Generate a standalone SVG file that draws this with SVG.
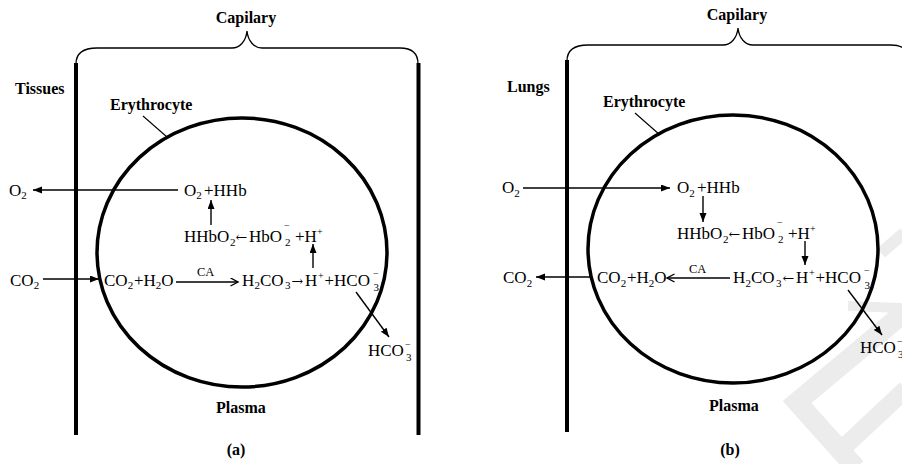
<svg xmlns="http://www.w3.org/2000/svg" width="902" height="464" viewBox="0 0 902 464">
  <style>
    .lbl { font-family: "Liberation Serif", "Times New Roman", serif; font-weight: bold; font-size: 16px; fill: #000; }
    .chem { font-family: "Liberation Serif", "Times New Roman", serif; font-size: 17px; fill: #000; }
    .sub { font-size: 11px; }
    .sup { font-size: 10px; }
    .arr { font-family: "DejaVu Serif", "Liberation Serif", serif; font-size: 14px; }
    .ca { font-family: "Liberation Serif", "Times New Roman", serif; font-size: 12.5px; fill: #000; }
    .wall { stroke: #000; stroke-width: 4; }
    .cell { fill: none; stroke: #000; stroke-width: 3.5; }
    .brace { fill: none; stroke: #000; stroke-width: 1.3; }
    .lead { stroke: #000; stroke-width: 1.1; }
    .conn { stroke: #000; stroke-width: 1.4; fill: none; }
    .wm { stroke: #ececec; fill: none; stroke-linejoin: miter; }
  </style>
  <defs>
    <marker id="head" markerUnits="userSpaceOnUse" markerWidth="10" markerHeight="8" refX="9" refY="3.5" orient="auto">
      <path d="M0,0 L9,3.5 L0,7 z" fill="#000"/>
    </marker>
    <marker id="chev" markerUnits="userSpaceOnUse" markerWidth="10" markerHeight="10" refX="8" refY="4.5" orient="auto">
      <path d="M0.5,0.5 L8,4.5 L0.5,8.5" fill="none" stroke="#000" stroke-width="1.4"/>
    </marker>
  </defs>
  <rect width="902" height="464" fill="#fff"/>

  <!-- faint watermark -->
  <g id="watermark">
    <polyline class="wm" stroke-width="20" points="905,312 797,402 856,468"/>
    <line class="wm" stroke-width="18" x1="843" y1="448" x2="906" y2="389"/>
    <line class="wm" stroke-width="12" x1="904" y1="233" x2="881" y2="253"/>
    <line class="wm" stroke-width="10" x1="848" y1="306" x2="904" y2="308"/>
  </g>

  <!-- ===== Panel (a) ===== -->
  <g id="panel-a">
    <g id="frame-a">
      <text class="lbl" x="246" y="23" text-anchor="middle">Capilary</text>
      <path class="brace" d="M76,64 C76,53 84,48 97,48 L232,48 C240,48 246,41 247,31 C248,41 254,48 262,48 L400,48 C412,48 418,54 418,64"/>
      <line class="wall" x1="76" y1="63" x2="76" y2="435"/>
      <line class="wall" x1="418.5" y1="63" x2="418.5" y2="435"/>
      <text class="lbl" x="15" y="94">Tissues</text>
      <text class="lbl" x="216" y="413">Plasma</text>
      <text class="lbl" x="236" y="455" text-anchor="middle" font-size="17">(a)</text>
    </g>
    <g id="erythrocyte-a">
      <ellipse class="cell" cx="242" cy="252.5" rx="145" ry="134.5"/>
      <text class="lbl" x="110" y="110">Erythrocyte</text>
      <line class="lead" x1="143" y1="116" x2="167" y2="137"/>
    </g>
    <g id="chem-a">
      <text class="chem" x="9" y="195.5">O<tspan class="sub" dy="3.5">2</tspan></text>
      <text class="chem" x="184" y="195.5">O<tspan class="sub" dy="3.5">2</tspan><tspan x="204" dy="-3.5">+HHb</tspan></text>
      <text class="chem"><tspan x="184" y="242">HHbO</tspan><tspan class="sub" x="230" y="245.5">2</tspan><tspan class="arr" x="235.5" y="242">←</tspan><tspan x="249" y="242">HbO</tspan><tspan class="sup" x="284" y="229">−</tspan><tspan class="sub" x="285" y="246">2</tspan><tspan x="295" y="242">+H</tspan><tspan class="sup" x="317" y="235">+</tspan></text>
      <text class="chem" x="10" y="285.5">CO<tspan class="sub" dy="3.5">2</tspan></text>
      <text class="chem" x="104" y="285.5">CO<tspan class="sub" dy="3.5">2</tspan><tspan x="134" dy="-3.5">+</tspan><tspan x="143.5">H</tspan><tspan class="sub" dy="3.5">2</tspan><tspan dy="-3.5">O</tspan></text>
      <text class="ca" x="197" y="276">CA</text>
      <text class="chem"><tspan x="242" y="285.5">H</tspan><tspan class="sub" x="254.5" y="289">2</tspan><tspan x="260" y="285.5">CO</tspan><tspan class="sub" x="285" y="289">3</tspan><tspan class="arr" x="291.5" y="285.5">→</tspan><tspan x="305" y="285.5">H</tspan><tspan class="sup" x="318" y="278.5">+</tspan><tspan x="324.5" y="285.5">+HCO</tspan><tspan class="sup" x="373" y="276.5">−</tspan><tspan class="sub" x="373.5" y="291">3</tspan></text>
      <text class="chem"><tspan x="368" y="356">HCO</tspan><tspan class="sup" x="405" y="347.5">−</tspan><tspan class="sub" x="406" y="361">3</tspan></text>
    </g>
    <g id="connectors-a">
      <line class="conn" x1="178" y1="190" x2="33" y2="190" marker-end="url(#head)"/>
      <line class="conn" x1="211" y1="225" x2="211" y2="200" marker-end="url(#head)"/>
      <line class="conn" x1="313" y1="268" x2="313" y2="244" marker-end="url(#head)"/>
      <line class="conn" x1="43" y1="279" x2="99" y2="279" marker-end="url(#head)"/>
      <line class="conn" x1="176" y1="282" x2="238" y2="282" marker-end="url(#chev)"/>
      <line class="conn" x1="356" y1="292" x2="389" y2="337" marker-end="url(#head)"/>
    </g>
  </g>

  <!-- ===== Panel (b) ===== -->
  <g id="panel-b" transform="translate(491,-3)">
    <g id="frame-b">
      <text class="lbl" x="246" y="23" text-anchor="middle">Capilary</text>
      <path class="brace" d="M76,64 C76,53 84,48 97,48 L232,48 C240,48 246,41 247,31 C248,41 254,48 262,48 L400,48 C412,48 418,54 418,64"/>
      <line class="wall" x1="76" y1="63" x2="76" y2="435"/>
      <text class="lbl" x="16" y="95">Lungs</text>
      <text class="lbl" x="218" y="414">Plasma</text>
      <text class="lbl" x="239" y="458" text-anchor="middle" font-size="17">(b)</text>
    </g>
    <g id="erythrocyte-b">
      <ellipse class="cell" cx="242" cy="252" rx="145" ry="134"/>
      <text class="lbl" x="112" y="110">Erythrocyte</text>
      <line class="lead" x1="144" y1="116" x2="169" y2="138"/>
    </g>
    <g id="chem-b">
      <text class="chem" x="11" y="196">O<tspan class="sub" dy="3.5">2</tspan></text>
      <text class="chem" x="186" y="196">O<tspan class="sub" dy="3.5">2</tspan><tspan x="206" dy="-3.5">+HHb</tspan></text>
      <text class="chem"><tspan x="186" y="242">HHbO</tspan><tspan class="sub" x="232" y="245.5">2</tspan><tspan class="arr" x="237.5" y="242">←</tspan><tspan x="251" y="242">HbO</tspan><tspan class="sup" x="286" y="229">−</tspan><tspan class="sub" x="287" y="246">2</tspan><tspan x="297" y="242">+H</tspan><tspan class="sup" x="319" y="235">+</tspan></text>
      <text class="chem" x="12" y="286">CO<tspan class="sub" dy="3.5">2</tspan></text>
      <text class="chem" x="106" y="286">CO<tspan class="sub" dy="3.5">2</tspan><tspan x="136" dy="-3.5">+</tspan><tspan x="145.5">H</tspan><tspan class="sub" dy="3.5">2</tspan><tspan dy="-3.5">O</tspan></text>
      <text class="ca" x="198" y="275.5">CA</text>
      <text class="chem"><tspan x="242" y="286">H</tspan><tspan class="sub" x="254.5" y="289.5">2</tspan><tspan x="260" y="286">CO</tspan><tspan class="sub" x="285" y="289.5">3</tspan><tspan class="arr" x="291.5" y="286">←</tspan><tspan x="305" y="286">H</tspan><tspan class="sup" x="318" y="279">+</tspan><tspan x="324.5" y="286">+HCO</tspan><tspan class="sup" x="373" y="277">−</tspan><tspan class="sub" x="373.5" y="291.5">3</tspan></text>
      <text class="chem"><tspan x="369" y="356">HCO</tspan><tspan class="sup" x="406" y="347.5">−</tspan><tspan class="sub" x="407" y="361">3</tspan></text>
    </g>
    <g id="connectors-b">
      <line class="conn" x1="32" y1="191" x2="179" y2="191" marker-end="url(#head)"/>
      <line class="conn" x1="212" y1="199" x2="212" y2="225" marker-end="url(#head)"/>
      <line class="conn" x1="314" y1="244" x2="314" y2="268" marker-end="url(#head)"/>
      <line class="conn" x1="99" y1="280" x2="45" y2="280" marker-end="url(#head)"/>
      <line class="conn" x1="239" y1="281" x2="176" y2="281" marker-end="url(#chev)"/>
      <line class="conn" x1="357" y1="293" x2="391" y2="338" marker-end="url(#head)"/>
    </g>
  </g>
</svg>
